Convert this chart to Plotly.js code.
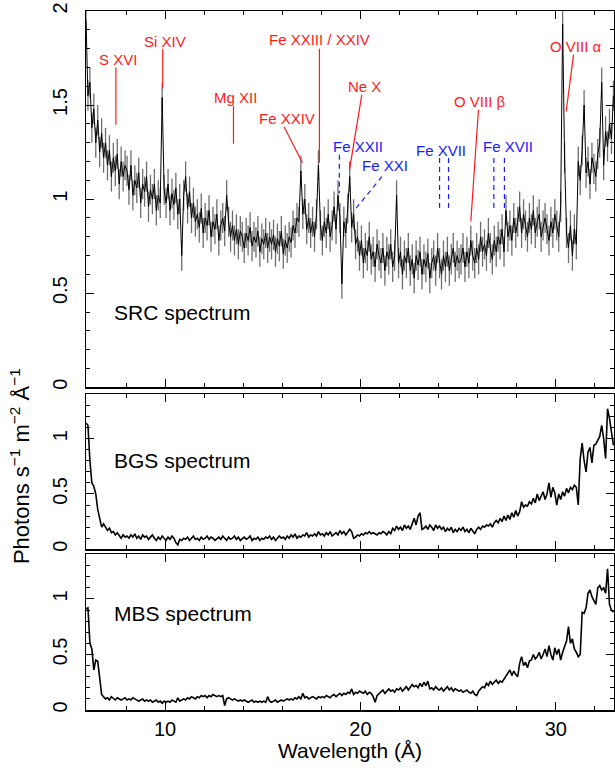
<!DOCTYPE html>
<html>
<head>
<meta charset="utf-8">
<script src="https://cdn.plot.ly/plotly-3.0.1.min.js"></script>
<style>html,body{margin:0;padding:0;background:#fff;}#chart{width:615px;height:772px;}</style>
</head>
<body>
<div id="chart"></div>
<script>
// ---------------- DATA ----------------
// Wavelength bins (Å): start and bin width of the spectra
const WL_START = 5.95;
const WL_BIN = 0.1;

// SRC spectrum (photons s^-1 m^-2 Å^-1), one value per 0.1 Å bin (5.95, then rows of 10 per Å)
const srcFlux = [
 1.95,
 1.55,1.62,1.38,1.48,1.30,1.42,1.25,1.35,1.22,1.30,
 1.18,1.26,1.12,1.22,1.15,1.24,1.08,1.20,1.12,1.18,
 1.15,1.05,1.18,1.02,1.10,1.06,1.14,0.98,1.08,1.04,
 1.12,0.96,1.05,1.00,1.08,0.94,1.02,0.98,1.54,1.05,
 0.98,1.08,0.94,1.03,0.97,1.06,0.92,1.00,0.70,1.02,
 1.12,0.95,1.04,0.90,0.98,0.88,0.92,0.85,0.95,0.82,
 0.90,0.86,0.94,0.80,0.88,0.84,0.92,0.78,0.86,0.90,
 0.83,1.02,0.88,0.80,0.86,0.78,0.84,0.76,0.83,0.80,
 0.74,0.82,0.78,0.85,0.75,0.80,0.77,0.83,0.72,0.79,
 0.76,0.82,0.74,0.80,0.76,0.81,0.72,0.79,0.75,0.83,
 0.71,0.78,0.74,0.80,0.77,0.86,0.82,0.90,0.88,1.15,
 0.92,1.00,0.84,0.90,0.82,0.88,0.80,0.92,1.18,0.86,
 0.78,0.88,0.82,0.92,0.80,0.86,0.96,0.84,1.02,0.90,
 0.55,0.88,0.82,0.95,1.12,0.85,0.92,0.76,0.80,0.70,
 0.78,0.66,0.74,0.70,0.80,0.68,0.72,0.64,0.76,0.70,
 0.66,0.74,0.62,0.72,0.68,0.76,0.64,0.70,1.02,0.66,
 0.72,0.60,0.70,0.66,0.74,0.62,0.68,0.58,0.70,0.65,
 0.72,0.60,0.68,0.64,0.71,0.58,0.66,0.70,0.62,0.74,
 0.66,0.60,0.70,0.64,0.72,0.62,0.68,0.74,0.64,0.70,
 0.66,0.68,0.74,0.64,0.72,0.66,0.78,0.70,0.66,0.74,
 0.68,0.80,0.72,0.76,0.70,0.82,0.74,0.68,0.78,0.72,
 0.80,0.76,0.84,0.72,0.94,0.80,0.86,0.78,0.90,0.82,
 0.88,0.96,0.82,0.92,0.86,0.80,0.90,0.84,0.94,0.82,
 0.88,0.92,0.80,0.86,0.90,0.84,0.78,0.88,0.82,0.92,
 0.86,0.80,0.96,1.93,1.22,0.82,0.74,0.86,0.70,0.84,
 0.76,1.20,1.10,1.26,1.50,1.14,1.20,1.08,1.22,1.16,
 1.12,1.24,1.30,1.62,1.18,1.36,1.28,1.40,1.32,1.55
];
const srcError = 0.08;

// BGS spectrum
const bgsFlux = [
 1.14,1.12,0.80,0.60,0.57,0.50,0.36,0.28,0.20,0.23,0.20,
 0.17,0.19,0.15,0.16,0.13,0.15,0.12,0.10,0.13,0.11,
 0.12,0.10,0.13,0.11,0.14,0.10,0.12,0.09,0.13,0.11,
 0.12,0.09,0.11,0.13,0.10,0.08,0.11,0.09,0.12,0.10,
 0.08,0.11,0.09,0.12,0.10,0.06,0.04,0.09,0.08,0.10,
 0.09,0.11,0.08,0.10,0.12,0.09,0.10,0.08,0.11,0.09,
 0.10,0.12,0.09,0.11,0.10,0.08,0.10,0.11,0.09,0.12,
 0.10,0.08,0.11,0.09,0.10,0.12,0.09,0.11,0.08,0.10,
 0.11,0.09,0.10,0.12,0.08,0.10,0.09,0.11,0.08,0.10,
 0.09,0.11,0.10,0.12,0.09,0.11,0.08,0.10,0.12,0.10,
 0.11,0.09,0.12,0.10,0.13,0.11,0.14,0.10,0.12,0.11,
 0.13,0.12,0.15,0.11,0.13,0.12,0.14,0.12,0.16,0.13,
 0.14,0.12,0.15,0.13,0.16,0.12,0.14,0.15,0.13,0.17,
 0.14,0.16,0.13,0.15,0.18,0.16,0.10,0.11,0.13,0.12,
 0.14,0.13,0.15,0.14,0.16,0.14,0.15,0.14,0.13,0.15,
 0.14,0.16,0.15,0.13,0.16,0.14,0.19,0.17,0.21,0.18,
 0.20,0.17,0.22,0.19,0.21,0.18,0.23,0.28,0.22,0.30,
 0.33,0.18,0.19,0.21,0.18,0.22,0.20,0.17,0.22,0.19,
 0.21,0.18,0.20,0.16,0.19,0.17,0.20,0.15,0.18,0.16,
 0.19,0.17,0.20,0.16,0.18,0.15,0.19,0.17,0.14,0.18,
 0.20,0.18,0.21,0.20,0.22,0.21,0.23,0.20,0.24,0.26,
 0.24,0.28,0.25,0.30,0.26,0.31,0.27,0.33,0.29,0.35,
 0.30,0.34,0.43,0.38,0.40,0.39,0.43,0.41,0.46,0.42,
 0.50,0.44,0.48,0.52,0.45,0.50,0.60,0.47,0.56,0.51,
 0.40,0.50,0.45,0.52,0.48,0.55,0.51,0.56,0.54,0.58,
 0.56,0.40,0.82,0.96,0.80,0.70,0.88,0.92,0.78,0.94,
 0.95,0.98,1.02,1.12,1.00,0.82,1.27,1.18,1.05,0.94
];

// MBS spectrum
const mbsFlux = [
 0.91,0.92,0.60,0.55,0.36,0.45,0.44,0.30,0.14,0.12,0.10,
 0.11,0.09,0.12,0.10,0.09,0.11,0.10,0.09,0.10,0.11,
 0.09,0.10,0.09,0.11,0.10,0.09,0.08,0.09,0.10,0.08,
 0.09,0.08,0.09,0.07,0.08,0.09,0.07,0.08,0.06,0.08,
 0.07,0.08,0.07,0.09,0.08,0.07,0.11,0.08,0.09,0.10,
 0.09,0.11,0.10,0.12,0.11,0.10,0.12,0.11,0.13,0.12,
 0.13,0.11,0.13,0.12,0.14,0.13,0.12,0.13,0.12,0.13,
 0.04,0.10,0.11,0.10,0.09,0.10,0.09,0.08,0.09,0.08,
 0.09,0.08,0.07,0.08,0.09,0.07,0.08,0.07,0.08,0.07,
 0.08,0.07,0.12,0.08,0.07,0.08,0.09,0.07,0.08,0.09,
 0.08,0.09,0.10,0.09,0.10,0.09,0.11,0.10,0.12,0.10,
 0.15,0.11,0.12,0.10,0.11,0.12,0.11,0.10,0.12,0.11,
 0.12,0.11,0.13,0.12,0.11,0.13,0.14,0.12,0.14,0.15,
 0.13,0.15,0.14,0.16,0.15,0.19,0.14,0.16,0.15,0.17,
 0.16,0.15,0.17,0.14,0.16,0.15,0.12,0.07,0.13,0.15,
 0.16,0.18,0.15,0.17,0.19,0.17,0.18,0.16,0.19,0.18,
 0.20,0.17,0.19,0.21,0.18,0.20,0.23,0.21,0.22,0.20,
 0.24,0.21,0.25,0.22,0.26,0.19,0.20,0.18,0.21,0.19,
 0.18,0.20,0.17,0.19,0.21,0.18,0.20,0.17,0.19,0.18,
 0.17,0.18,0.16,0.17,0.18,0.16,0.15,0.17,0.14,0.13,
 0.17,0.19,0.21,0.20,0.24,0.22,0.26,0.23,0.25,0.27,
 0.24,0.26,0.25,0.28,0.30,0.34,0.36,0.31,0.35,0.32,
 0.30,0.42,0.48,0.40,0.43,0.38,0.44,0.45,0.50,0.46,
 0.48,0.52,0.46,0.50,0.55,0.48,0.58,0.50,0.45,0.56,
 0.50,0.55,0.45,0.52,0.58,0.62,0.75,0.60,0.64,0.55,
 0.52,0.48,0.50,0.88,0.87,0.92,1.05,1.08,1.02,0.98,
 0.95,1.10,1.12,1.08,1.10,1.05,1.27,0.95,0.90,0.88
];

// Ion line identifications
const redIons = ['S XVI','Si XIV','Mg XII','Fe XXIV','Fe XXIII / XXIV','Ne X','O VIII β','O VIII α'];
const blueIons = ['Fe XXII','Fe XXI','Fe XVII','Fe XVII'];
const panelNames = ['SRC spectrum','BGS spectrum','MBS spectrum'];
const xTitle = 'Wavelength (Å)';
const yTitle = 'Photons s<sup>−1</sup> m<sup>−2</sup> Å<sup>−1</sup>';

// ---------------- PLACEMENT (label text position + marker segments, data coords) ----------------
const redPlace = [
  {tx:7.59,  ty:1.74, seg:[[7.48,1.70,7.48,1.395]]},
  {tx:10.0,  ty:1.84, seg:[[9.88,1.80,9.88,1.59]]},
  {tx:13.58, ty:1.54, seg:[[13.50,1.496,13.50,1.294]]},
  {tx:16.22, ty:1.43, seg:[[16.09,1.385,17.03,1.193]]},
  {tx:17.89, ty:1.847,seg:[[17.90,1.80,17.90,1.193]]},
  {tx:20.19, ty:1.60, seg:[[20.07,1.555,19.44,1.156]]},
  {tx:26.13, ty:1.518,seg:[[26.04,1.475,25.65,0.881]]},
  {tx:31.04, ty:1.81, seg:[[30.91,1.768,30.53,1.466]]}
];
const bluePlace = [
  {tx:19.88, ty:1.28,  seg:[[18.92,1.236,18.92,1.032]]},
  {tx:21.26, ty:1.179, seg:[[21.10,1.12,19.78,0.952]]},
  {tx:24.13, ty:1.257, seg:[[24.05,1.218,24.05,0.952],[24.51,1.218,24.51,0.952]]},
  {tx:27.54, ty:1.28,  seg:[[26.83,1.218,26.83,0.952],[27.37,1.218,27.37,0.952]]}
];

const grid = arr => arr.map((_, i) => +(WL_START + WL_BIN * i).toFixed(3));

const FONT = '"Liberation Sans", Arial, Helvetica, sans-serif';
const RED = '#ff1a1a', BLUE = '#1a1aff';

const traces = [
  {x: grid(srcFlux), y: srcFlux, xaxis:'x', yaxis:'y', mode:'markers', type:'scatter',
   marker:{size:1, color:'rgba(0,0,0,0)'},
   error_y:{type:'constant', value:srcError, color:'#6e6e6e', thickness:1.3, width:0},
   hoverinfo:'skip', showlegend:false},
  {x: grid(srcFlux), y: srcFlux, xaxis:'x', yaxis:'y', mode:'lines', type:'scatter',
   line:{color:'#000', width:1, shape:'linear'}, showlegend:false},
  {x: grid(bgsFlux), y: bgsFlux, xaxis:'x2', yaxis:'y2', mode:'lines', type:'scatter',
   line:{color:'#000', width:1.6}, showlegend:false},
  {x: grid(mbsFlux), y: mbsFlux, xaxis:'x3', yaxis:'y3', mode:'lines', type:'scatter',
   line:{color:'#000', width:1.6}, showlegend:false}
];

const XR = [5.95, 32.98];
const xBase = {
  range: XR, dtick: 10, tick0: 0, ticks:'inside', ticklen: 8, tickwidth: 1, tickcolor:'#000',
  minor:{dtick:2, tick0:0, ticks:'inside', ticklen:4, tickwidth:1, tickcolor:'#000'},
  showline:true, linecolor:'#000', linewidth:1.5, mirror:'ticks', showgrid:false, zeroline:false,
  tickfont:{family:FONT, size:20, color:'#000'}, fixedrange:true
};
const yBase = {
  dtick: 0.5, tick0: 0, ticks:'inside', ticklen: 8, tickwidth: 1, tickcolor:'#000',
  minor:{dtick:0.1, tick0:0, ticks:'inside', ticklen:4, tickwidth:1, tickcolor:'#000'},
  showline:true, linecolor:'#000', linewidth:1.5, mirror:'ticks', showgrid:false, zeroline:false,
  tickangle:-90, ticklabelstandoff: 10,
  tickfont:{family:FONT, size:20, color:'#000'}, fixedrange:true
};

const shapes = [];
const annotations = [];
redIons.forEach((name, i) => {
  const p = redPlace[i];
  annotations.push({xref:'x', yref:'y', x:p.tx, y:p.ty, text:name, showarrow:false,
    xanchor:'center', yanchor:'middle', font:{family:FONT, size:15, color:RED}});
  p.seg.forEach(s => shapes.push({type:'line', xref:'x', yref:'y', x0:s[0], y0:s[1], x1:s[2], y1:s[3],
    line:{color:RED, width:1.2}}));
});
blueIons.forEach((name, i) => {
  const p = bluePlace[i];
  annotations.push({xref:'x', yref:'y', x:p.tx, y:p.ty, text:name, showarrow:false,
    xanchor:'center', yanchor:'middle', font:{family:FONT, size:15, color:BLUE}});
  p.seg.forEach(s => shapes.push({type:'line', xref:'x', yref:'y', x0:s[0], y0:s[1], x1:s[2], y1:s[3],
    line:{color:BLUE, width:1.2, dash:'5px,4px'}}));
});
// panel names
[['x','y',0.40],['x2','y2',0.80],['x3','y3',0.87]].forEach((r, i) => {
  annotations.push({xref:r[0], yref:r[1], x:7.27, y:r[2], text:panelNames[i], showarrow:false,
    xanchor:'left', yanchor:'middle', font:{family:FONT, size:21, color:'#000'}});
});
// common y-axis title
annotations.push({xref:'paper', yref:'paper', x:-0.125, y:0.349, text:yTitle, textangle:-90,
  showarrow:false, xanchor:'center', yanchor:'middle', font:{family:FONT, size:22, color:'#000'}});

const layout = {
  width:615, height:772,
  margin:{l:86, r:1, t:11, b:62, pad:0},
  paper_bgcolor:'#fff', plot_bgcolor:'#fff',
  showlegend:false,
  xaxis: Object.assign({}, xBase, {anchor:'y', matches:'x3', showticklabels:false}),
  xaxis2: Object.assign({}, xBase, {anchor:'y2', matches:'x3', showticklabels:false}),
  xaxis3: Object.assign({}, xBase, {anchor:'y3', showticklabels:true, ticklabelstandoff: 0,
    title:{text:xTitle, font:{family:FONT, size:21, color:'#000'}, standoff:2}}),
  yaxis: Object.assign({}, yBase, {anchor:'x', domain:[0.4617, 1], range:[0, 2]}),
  yaxis2: Object.assign({}, yBase, {anchor:'x2', domain:[0.2299, 0.4516], range:[0, 1.4]}),
  yaxis3: Object.assign({}, yBase, {anchor:'x3', domain:[0, 0.2225], range:[0, 1.4]}),
  shapes: shapes,
  annotations: annotations
};

Plotly.newPlot('chart', traces, layout, {displayModeBar:false, staticPlot:true});
</script>
</body>
</html>
